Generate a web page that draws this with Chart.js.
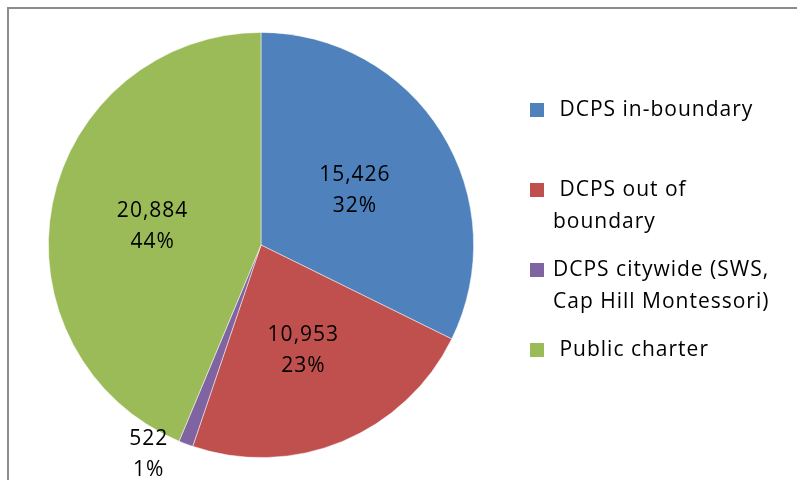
<!DOCTYPE html>
<html>
<head>
<meta charset="utf-8">
<script src="https://cdn.jsdelivr.net/npm/chart.js@4"></script>
<style>
  body { margin: 0; background: #fff; }
  #wrap { position: relative; width: 797px; height: 480px; overflow: hidden; }
  #frame { position: absolute; left: 7px; top: 7px; right: -10px; bottom: -10px;
           border-left: 2px solid #8c8c8c; border-top: 2px solid #8c8c8c; }
  canvas { position: absolute; left: 0; top: 0; }
</style>
</head>
<body>
<div id="wrap">
  <div id="frame"></div>
  <canvas id="pie" width="797" height="480"></canvas>
</div>
<script>
// data
const categories = ['DCPS in-boundary', 'DCPS out of boundary', 'DCPS citywide (SWS, Cap Hill Montessori)', 'Public charter'];
const legendLines = [[' DCPS in-boundary'], [' DCPS out of', 'boundary'], ['DCPS citywide (SWS,', 'Cap Hill Montessori)'], [' Public charter']];
const students = [15426, 10953, 522, 20884];
const percents = ['32%', '23%', '1%', '44%'];
const colors = ['#4F81BD', '#C0504D', '#8064A2', '#9BBB59'];

const FONT = '21px "Open Sans", sans-serif';

// value + percent labels on each slice
const sliceLabels = {
    id: 'sliceLabels',
    afterDatasetsDraw(chart) {
        const ctx = chart.ctx;
        const arcs = chart.getDatasetMeta(0).data;
        const total = students.reduce((a, b) => a + b);
        ctx.save();
        ctx.font = FONT;
        ctx.letterSpacing = '1px';
        ctx.fillStyle = '#000';
        ctx.textAlign = 'center';
        ctx.textBaseline = 'middle';
        arcs.forEach(function(arc, i) {
            let mid = (arc.startAngle + arc.endAngle) / 2;
            let r = arc.outerRadius * 0.52;
            let dy = 3;
            if (students[i] / total < 0.03) {
                // small slice: label outside
                mid += 0.13;
                r = arc.outerRadius * 1.12;
                dy = -1;
            }
            const x = arc.x + Math.cos(mid) * r;
            const y = arc.y + Math.sin(mid) * r + dy;
            ctx.fillText(students[i].toLocaleString('en-US'), x, y - 15);
            ctx.fillText(percents[i], x, y + 16);
        });
        ctx.restore();
    }
};

// legend on the right with wrapped lines
const sideLegend = {
    id: 'sideLegend',
    afterDraw(chart) {
        const ctx = chart.ctx;
        const rowY = [110, 190, 270, 350];
        ctx.save();
        ctx.font = FONT;
        ctx.letterSpacing = '1px';
        ctx.textBaseline = 'middle';
        ctx.textAlign = 'left';
        legendLines.forEach(function(lines, i) {
            ctx.fillStyle = chart.data.datasets[0].backgroundColor[i];
            ctx.fillRect(530, rowY[i] - 7, 14, 14);
            ctx.fillStyle = '#000';
            lines.forEach(function(t, j) {
                ctx.fillText(t, 553, rowY[i] + j * 32);
            });
        });
        ctx.restore();
    }
};

new Chart(document.getElementById('pie'), {
    type: 'pie',
    data: {
        labels: categories,
        datasets: [{
            data: students,
            backgroundColor: colors,
            borderColor: 'rgba(255,255,255,0.6)',
            borderWidth: 0.8
        }]
    },
    options: {
        responsive: false,
        animation: false,
        layout: { padding: { left: 45, right: 320, top: 32, bottom: 22 } },
        plugins: {
            legend: { display: false },
            tooltip: { enabled: false }
        }
    },
    plugins: [sliceLabels, sideLegend]
});
</script>
</body>
</html>
